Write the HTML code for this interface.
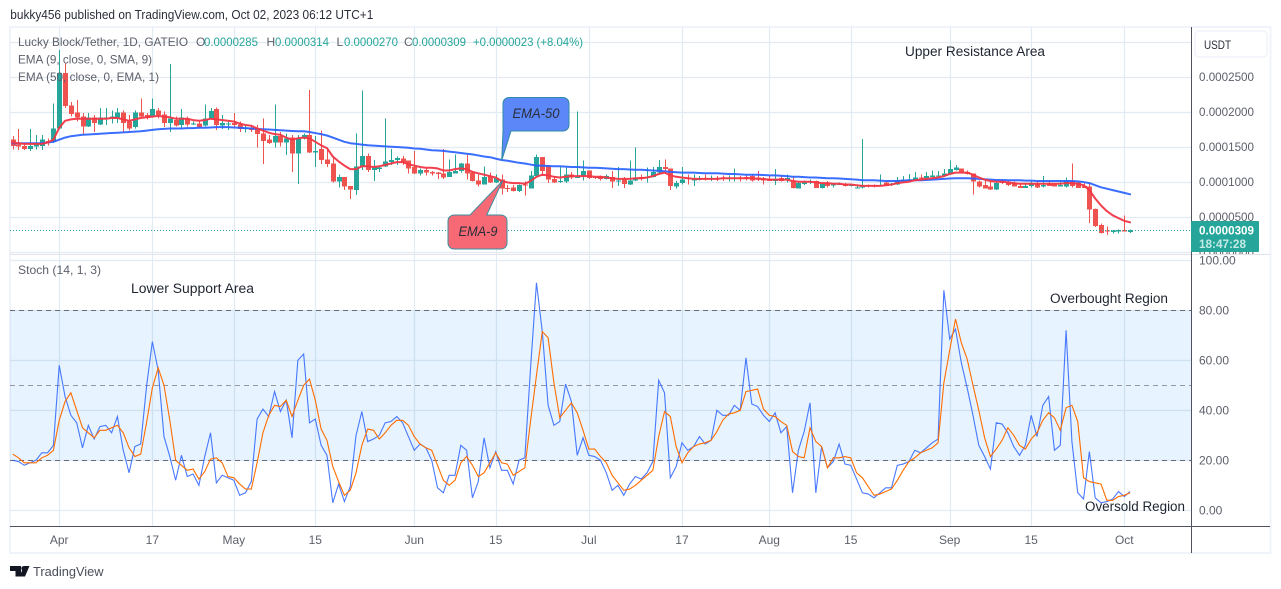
<!DOCTYPE html>
<html>
<head>
<meta charset="utf-8">
<title>Lucky Block/Tether chart</title>
<style>
html,body{margin:0;padding:0;background:#fff;width:1281px;height:589px;overflow:hidden}
svg{display:block;font-family:"Liberation Sans",sans-serif}
</style>
</head>
<body>
<svg id="chart" xmlns="http://www.w3.org/2000/svg" width="1281" height="589" viewBox="0 0 1281 589">
  <defs>
    <clipPath id="upperClip"><rect x="10" y="28" width="1181" height="226"/></clipPath>
    <clipPath id="lowerClip"><rect x="10" y="255" width="1181" height="271"/></clipPath>
    <clipPath id="axisClip"><rect x="1192" y="28" width="78" height="226"/></clipPath>
  </defs>
  <text x="10.3" y="19" font-size="12.5" fill="#2a2e39" textLength="363" lengthAdjust="spacingAndGlyphs">bukky456 published on TradingView.com, Oct 02, 2023 06:12 UTC+1</text>
  <rect x="10" y="27" width="1260.5" height="526" fill="#fff" stroke="#f0f3fa" stroke-width="2"/>
  <g id="gridLayer"></g>
  <rect x="10" y="310.3" width="1181" height="150" fill="#2196f3" fill-opacity="0.11"/>
  <g id="stochLevels"></g>
  <line x1="10" x2="1270" y1="254.5" y2="254.5" stroke="#e0e3eb" stroke-width="1"/>
  <g id="candleLayer" clip-path="url(#upperClip)"></g>
  <polyline id="ema50Line" clip-path="url(#upperClip)" fill="none" stroke="#2962ff" stroke-width="2" stroke-linejoin="round" stroke-linecap="round" stroke-opacity="0.92"/>
  <polyline id="ema9Line" clip-path="url(#upperClip)" fill="none" stroke="#f23645" stroke-width="2" stroke-linejoin="round" stroke-linecap="round" stroke-opacity="0.95"/>
  <line id="lastPriceLine" x1="10" x2="1191" stroke="#26a69a" stroke-width="1" stroke-dasharray="1 2"/>
  <polyline id="stochK" clip-path="url(#lowerClip)" fill="none" stroke="#2962ff" stroke-width="1.1" stroke-opacity="0.85"/>
  <polyline id="stochD" clip-path="url(#lowerClip)" fill="none" stroke="#ff6d00" stroke-width="1.1"/>

  <g font-size="12" fill="#5d606b">
    <text x="18" y="46" textLength="170" lengthAdjust="spacingAndGlyphs">Lucky Block/Tether, 1D, GATEIO</text>
    <text x="196" y="46">O</text>
    <text x="204" y="46" fill="#26a69a" textLength="54" lengthAdjust="spacingAndGlyphs">0.0000285</text>
    <text x="266.5" y="46">H</text>
    <text x="275" y="46" fill="#26a69a" textLength="54" lengthAdjust="spacingAndGlyphs">0.0000314</text>
    <text x="336.5" y="46">L</text>
    <text x="344" y="46" fill="#26a69a" textLength="54" lengthAdjust="spacingAndGlyphs">0.0000270</text>
    <text x="404" y="46">C</text>
    <text x="412" y="46" fill="#26a69a" textLength="54" lengthAdjust="spacingAndGlyphs">0.0000309</text>
    <text x="473" y="46" fill="#26a69a" textLength="110" lengthAdjust="spacingAndGlyphs">+0.0000023 (+8.04%)</text>
    <text x="18" y="63.5" textLength="134" lengthAdjust="spacingAndGlyphs">EMA (9, close, 0, SMA, 9)</text>
    <text x="18" y="81" textLength="141" lengthAdjust="spacingAndGlyphs">EMA (50, close, 0, EMA, 1)</text>
    <text x="18" y="274" textLength="83" lengthAdjust="spacingAndGlyphs">Stoch (14, 1, 3)</text>
  </g>

  <g font-size="13.5" fill="#1f2430">
    <text x="905" y="56" textLength="140" lengthAdjust="spacingAndGlyphs">Upper Resistance Area</text>
    <text x="131" y="293" textLength="123" lengthAdjust="spacingAndGlyphs">Lower Support Area</text>
    <text x="1050" y="303" textLength="118" lengthAdjust="spacingAndGlyphs">Overbought Region</text>
    <text x="1085" y="511" textLength="100" lengthAdjust="spacingAndGlyphs">Oversold Region</text>
  </g>

  <g>
    <path d="M509 97.5 H563 a6 6 0 0 1 6 6 V125 a6 6 0 0 1 -6 6 H511 L501.7 160.5 L503 131 V103.5 a6 6 0 0 1 6 -6 Z" fill="#5b87f8" stroke="#2f8ba6" stroke-width="1"/>
    <text x="536" y="118" text-anchor="middle" font-size="13.5" font-style="italic" fill="#2a2e39" textLength="47" lengthAdjust="spacingAndGlyphs">EMA-50</text>
  </g>
  <g>
    <path d="M454 215 H470 L502.7 180.7 L486.7 215 H501 a6 6 0 0 1 6 6 V243 a6 6 0 0 1 -6 6 H454 a6 6 0 0 1 -6 -6 V221 a6 6 0 0 1 6 -6 Z" fill="#f76a75" stroke="#3a8fa3" stroke-width="1"/>
    <text x="478" y="236" text-anchor="middle" font-size="13.5" font-style="italic" fill="#2a2e39" textLength="39" lengthAdjust="spacingAndGlyphs">EMA-9</text>
  </g>

  <line x1="1191.5" x2="1191.5" y1="27" y2="553" stroke="#50535e" stroke-width="1"/>
  <line x1="10" x2="1270" y1="526.5" y2="526.5" stroke="#50535e" stroke-width="1"/>
  <g id="priceTickLayer" clip-path="url(#axisClip)"></g>
  <g id="stochTickLayer"></g>
  <g id="timeTickLayer"></g>

  <g>
    <rect x="1195" y="31" width="72" height="26" rx="4" fill="#fff" stroke="#f0f3fa" stroke-width="1.5"/>
    <text x="1204" y="49" font-size="12" fill="#2a2e39" textLength="27" lengthAdjust="spacingAndGlyphs">USDT</text>
  </g>

  <g>
    <rect x="1191" y="221" width="68" height="31" rx="1" fill="#26a69a"/>
    <text x="1199" y="234.5" font-size="12" font-weight="bold" fill="#fff" textLength="55" lengthAdjust="spacingAndGlyphs">0.0000309</text>
    <text x="1199" y="248" font-size="12" font-weight="bold" fill="#c5eae5" textLength="47" lengthAdjust="spacingAndGlyphs">18:47:28</text>
  </g>

  <g>
    <path d="M10 566 H21 V576.5 H15.5 V571 H10 Z M29.5 566 L25 576.5 H19.5 L24 566 Z" fill="#131722"/>
    <circle cx="23.7" cy="568.5" r="2.4" fill="#131722"/>
    <text x="33" y="576" font-size="13" fill="#4a4e59" textLength="70.5" lengthAdjust="spacingAndGlyphs">TradingView</text>
  </g>
</svg>

<script>
// All prices are in millionths of USDT (150 = 0.0001500). Index 0 = Mar 24, 2023.
var opens = [
160,153,151,147,150,151,158,157,176,255,
209,199,193,179,192,182,190,190,191,199,
186,178,199,195,193,202,196,184,188,181,
190,182,183,180,190,204,180,182,184,182,
176,177,176,169,160,156,165,156,163,140,
162,167,142,147,132,126,100,107,94,88,
122,137,117,118,122,128,131,133,130,121,
112,117,114,113,112,107,112,115,126,113,
102,96,108,99,103,91,92,87,96,90,
108,135,123,104,100,100,110,106,108,116,
107,108,104,107,100,103,96,102,107,106,
107,113,121,119,93,98,106,102,103,105,
104,105,105,104,105,106,107,108,106,104,
104,101,105,103,102,90,97,99,101,91,
98,95,96,97,94,91,92,95,95,94,
99,95,96,100,101,102,106,105,107,108,
108,111,117,119,114,112,100,95,93,89,
100,99,98,94,91,94,97,93,97,96,
93,93,101,99,94,93,61,38,30,28,29,31,28.5];
var closes = [
151,150,147,151,155,160,155,176,255,208,
197,192,179,192,184,192,192,193,199,184,
176,199,193,192,204,195,184,190,180,192,
182,183,178,190,201,181,184,183,181,175,
177,174,168,158,155,165,156,162,140,162,
167,142,144,131,125,100,107,93,89,122,
137,117,120,120,129,131,134,127,119,112,
117,113,112,111,106,114,115,126,112,101,
96,107,99,105,90,90,87,95,95,109,
135,115,103,99,101,110,106,107,115,105,
106,104,108,100,102,97,102,106,104,107,
114,121,118,94,98,103,104,104,104,103,
105,104,104,105,106,105,104,102,103,102,
101,104,101,105,91,98,99,101,91,97,
94,96,97,94,95,92,95,94,94,95,
94,97,102,103,103,106,105,108,109,109,
112,118,120,114,111,100,93,90,89,98,
98,95,93,91,94,98,92,95,94,93,
95,102,94,91,91,60,37,27,29,30,31,29,30.9];
var highs = [
165,175,155,175,167,167,162,212,288,269,
214,217,198,198,195,205,205,202,205,202,
195,202,219,198,219,205,200,268,193,204,
193,186,186,210,205,206,195,187,198,186,
181,179,181,190,167,210,171,169,167,167,
169,231,165,173,148,136,110,107,94,169,
230,140,131,122,190,147,136,137,130,144,
119,119,115,114,147,132,139,127,138,115,
110,122,113,110,110,95,95,96,100,115,
139,135,123,108,121,120,114,200,130,116,
108,109,110,115,121,107,130,149,110,120,
121,131,132,119,101,121,110,110,108,110,
109,108,109,109,119,108,110,110,115,107,
108,118,109,110,108,100,102,103,102,98,
101,98,99,98,97,96,161,96,96,110,
100,98,107,108,111,114,110,114,116,115,
118,130,124,119,116,112,102,103,100,100,
103,101,100,98,98,100,100,108,101,98,
100,106,126,99,98,98,62,40,36,31,32,52,31.4];
var lows = [
146,145,145,144,146,145,152,155,175,205,
193,186,168,178,171,181,181,183,184,171,
173,176,192,189,192,190,178,171,179,175,
179,181,176,179,189,174,175,174,176,171,
170,171,149,125,154,149,150,138,114,97,
160,141,121,125,121,99,92,88,75,81,
117,114,101,114,121,124,124,124,112,111,
109,109,109,104,104,107,112,113,103,100,
93,96,98,98,82,85,86,85,80,90,
107,108,98,98,98,98,104,106,102,104,
104,102,103,91,94,91,95,101,102,99,
106,110,112,88,90,96,96,94,102,102,
101,101,101,100,100,100,102,100,101,96,
101,95,100,99,90,90,95,97,91,90,
92,92,95,93,93,90,90,92,92,94,
94,94,95,100,100,101,104,104,106,107,
107,110,116,112,110,82,92,90,88,88,
97,94,93,91,91,92,91,92,94,93,
93,92,92,91,91,41,35,26,24,26,26,29,27];
var ema9Values = [
156,155,154,154,154,154,156,160,177,187,
189,190,190,190,190,190,190,191,191,189,
187,189,191,192,193,194,193,192,190,190,
190,188,187,188,190,189,188,187,186,183,
181,180,176,173,170,168,167,163,160,162,
163,162,157,152,148,136,129,123,118,118,
122,122,121,122,124,126,128,128,125,123,
121,120,120,119,116,116,118,119,118,114,
112,110,108,106,101,99,98,98,97,101,
107,110,109,107,106,107,108,108,108,108,
107,107,106,105,104,104,104,105,105,106,
108,111,113,109,107,106,105,104,104,104,
104,104,105,105,105,105,105,105,104,104,
103,103,103,103,101,100,100,100,99,98,
98,97,97,96,96,95,94,94,94,94,
95,96,98,99,100,102,103,104,105,106,
108,111,113,113,113,110,106,103,101,100,
100,99,98,97,97,97,97,97,97,97,
97,98,98,97,95,88,76,66,58,52,48,44,42];
var ema50Values = [
155,155,155,155,155,155,156,157,160,163,
165,166,167,167.5,168,168.5,169,169.5,170,170.5,
171,171.5,172,173,174,175,175.5,176,176,176,
176.5,176.5,177,177,177.5,178,178,178,177.5,177,
176.5,176,175.5,175,174.5,174,173.5,173,172.5,172,
172,171,169.5,168,166,163,160,157,155,154,
153,152,151.5,151,150.5,150,149.5,149,148.5,147.5,
147,146,145,144.5,144,143,142,141,140,139,
137.5,136,135,133,131,130,128.5,127,126,124.5,
123,123,122.5,122,122,121.5,121,121,120.5,120,
120,119.5,119,118.5,118,118,117.5,117,117,116.5,
116,115.5,115,114,113.5,113,113,113,112.5,112,
112,112,111.5,111,111,110.5,110,110,110,109.5,
109,109,108.5,108,107,107,106.5,106,106,105.5,
105,105,104.5,104,103.5,103,102,102,102,101.5,
101,101,101,101.5,102,102,102,102.5,103,103.5,
104,104.5,105,105,105,104.5,104,103.5,103,102.5,
102.5,102,102,102,101.5,101.5,101,101,101,101,
101,101,101,100.5,99.5,98,95,92,90,88,86,84,82];
var stochKValues = [
20,19.5,18,19,20,23,23,26,58,45.5,
38,35,25,34,28.5,33.5,34,31,37.5,24,
15,25.5,26.5,49.5,67.5,56,29.5,21.5,12,22,
13.5,14.5,10,21.5,31,11,14,13,12,6,
7,11.5,36.5,40.5,37.5,47.5,39.5,44,29,60,
62.5,35,36.5,26,22,3,10.5,3.5,9.5,30,
39.5,27.5,28.5,30,35,35.5,37.5,35,29.5,24,
26.5,25,20,9,7,14,14,26,24,5,
11.5,29,17,23.5,16,16,10.5,20,21,57.5,
91,71.5,42,34,35.5,50.5,43.5,22,29,22,
21.5,20,15,8,10,6,10.5,13.5,12.5,15,
19.5,52,47,13,17.5,27,24,25.5,29.5,26.5,
28,40,38,38,42,40,61,42.5,41.5,38,
35.5,39,31,33.5,7,24,31.5,43,7,25.5,
17,19.5,26.5,18.5,18,12.5,7,6.5,5,7,
9,9,18,18.5,19.5,24,23,25,27,28.5,
88,68.5,72.5,59,49,38,26,21.5,16.5,35,
34.5,31,25.5,22,26,38,29.5,42,45.5,24,
26,72,27.5,7,4.5,23.5,5,3,3.5,4.5,7.5,5.5,7.5];
var stochDValues = [
22.5,21,19,19,19,21,22,24,36,43.5,
47,40,33,31,29,32,32,33,34,31,
25,21.5,22.5,35,49,57,50,36,20,18,
16,16.5,12.5,15.5,20.5,21,19,13.5,13,10.5,
8.5,8.5,19,31,38,42,41.5,44,37.5,44,
50,52.5,44,32.5,28,17.5,11.5,6,8,15,
26,32.5,32,28.5,31,34,36,36,34,29.5,
26.5,25,24,18,12,10,12,19,21.5,18,
13.5,15,19,23,19,18.5,14,15.5,17,36,
54,71.5,69,51,37,40,43,39,32,24.5,
24.5,21.5,19,14,11,8,8.5,10,12,14,
16,29.5,39.5,37.5,25.5,19,23,25.5,26.5,27,
28,31.5,36,38.5,39,40,47.5,48,48.5,40.5,
38,37.5,35.5,34,23.5,21.5,21,33,27.5,25.5,
17,21,21,21.5,21,15,13,9.5,6,6.5,
7.5,8.5,12,16,19.5,21,23,24,25,27,
51,64,76.5,67,60.5,50,40,29,21.5,24.5,
28,33,30,26,24.5,28.5,31,36,39,37,
32,41,42,35.5,13,11.5,11,10.5,4,4,5.5,6,7];
var lastPrice = 30.9;
var priceTickValues = [300,250,200,150,100,50,0];
var priceTickLabels = ['','0.0002500','0.0002000','0.0001500','0.0001000','0.0000500','0.0000000'];
var stochTickValues = [100,80,60,40,20,0];
var stochTickLabels = ['100.00','80.00','60.00','40.00','20.00','0.00'];
var stochLevelValues = [80,50,20];
var timeTickBars = [8,24,38,52,69,83,99,115,130,144,161,175,191];
var timeTickLabels = ['Apr','17','May','15','Jun','15','Jul','17','Aug','15','Sep','15','Oct'];

function xAt(i){ return 12.67 + 5.82 * i; }
function yPrice(p){ return 181.7 - 0.7 * (p - 100); }
function yStoch(v){ return 510.3 - 2.5 * v; }

var NS = 'http://www.w3.org/2000/svg';
function make(tag, attrs, parent){
  var el = document.createElementNS(NS, tag);
  for (var k in attrs) el.setAttribute(k, attrs[k]);
  parent.appendChild(el);
  return el;
}
function linePoints(values, yFn){
  return values.map(function(v, i){ return xAt(i).toFixed(2) + ',' + yFn(v).toFixed(2); }).join(' ');
}

var gridLayer = document.getElementById('gridLayer');
var GRID = '#e2ebf1';
priceTickValues.forEach(function(v){
  var y = Math.round(yPrice(v)) + 0.5;
  var el = make('line', {x1:10, x2:1191, y1:y, y2:y, stroke:GRID, 'stroke-width':1.2}, gridLayer);
  
  
});
stochTickValues.forEach(function(v){
  var y = Math.round(yStoch(v)) + 0.5;
  var el = make('line', {x1:10, x2:1191, y1:y, y2:y, stroke:GRID, 'stroke-width':1.2}, gridLayer);
  
  
});
timeTickBars.forEach(function(b){
  var x = Math.round(xAt(b)) + 0.5;
  var el = make('line', {x1:x, x2:x, y1:27, y2:526, stroke:GRID, 'stroke-width':1.2}, gridLayer);
  
  
});

var stochLevels = document.getElementById('stochLevels');
stochLevelValues.forEach(function(v){
  var y = Math.round(yStoch(v)) + 0.5;
  var el = make('line', {x1:10, x2:1191, y1:y, y2:y, stroke: v === 50 ? '#9598a1' : '#6a6d78', 'stroke-width':1, 'stroke-dasharray':'5 4'}, stochLevels);
  
  
});

var candleLayer = document.getElementById('candleLayer');
opens.forEach(function(o, i){
  var c = closes[i];
  var col = c >= o ? '#26a69a' : '#ef5350';
  var cx = Math.round(xAt(i));
  var top = yPrice(Math.max(o, c));
  var bottom = yPrice(Math.min(o, c));
  var wick = make('rect', {x:cx, y:yPrice(highs[i]), width:1, height:Math.max(1, yPrice(lows[i]) - yPrice(highs[i])), fill:col, 'shape-rendering':'crispEdges'}, candleLayer);
  
  
  var body = make('rect', {x:cx - 2, y:top, width:5, height:Math.max(1, bottom - top), fill:col, 'shape-rendering':'crispEdges'}, candleLayer);
  
  
});

document.getElementById('ema50Line').setAttribute('points', linePoints(ema50Values, yPrice));
document.getElementById('ema9Line').setAttribute('points', linePoints(ema9Values, yPrice));
document.getElementById('stochK').setAttribute('points', linePoints(stochKValues, yStoch));
document.getElementById('stochD').setAttribute('points', linePoints(stochDValues, yStoch));
var lp = document.getElementById('lastPriceLine');
lp.setAttribute('y1', Math.round(yPrice(lastPrice)) + 0.5);
lp.setAttribute('y2', Math.round(yPrice(lastPrice)) + 0.5);

var priceTickLayer = document.getElementById('priceTickLayer');
priceTickValues.forEach(function(v, i){
  var t = make('text', {x:1199, y:yPrice(v) + 4.3, 'font-size':12, fill:'#5d606b', textLength:55, lengthAdjust:'spacingAndGlyphs'}, priceTickLayer);
  t.textContent = priceTickLabels[i];
  
  
});
var stochTickLayer = document.getElementById('stochTickLayer');
stochTickValues.forEach(function(v, i){
  var t = make('text', {x:1199, y:yStoch(v) + 4.3, 'font-size':12, fill:'#5d606b'}, stochTickLayer);
  t.textContent = stochTickLabels[i];
  
  
});
var timeTickLayer = document.getElementById('timeTickLayer');
timeTickBars.forEach(function(b, i){
  var t = make('text', {x:xAt(b), y:544, 'text-anchor':'middle', 'font-size':12, fill:'#5d606b'}, timeTickLayer);
  t.textContent = timeTickLabels[i];
  
  
});
</script>
</body>
</html>
